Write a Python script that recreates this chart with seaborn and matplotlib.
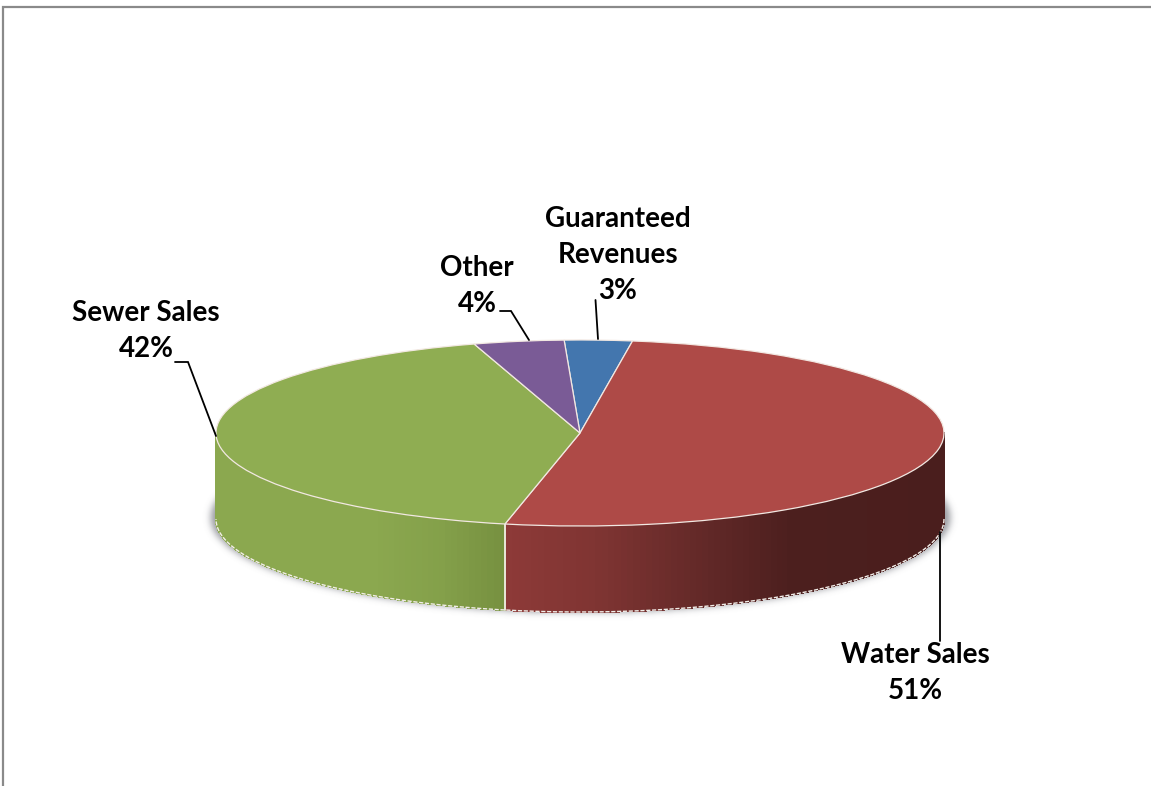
import numpy as np
import pandas as pd
import matplotlib
matplotlib.use("Agg")
import matplotlib.pyplot as plt
from matplotlib.colors import to_rgb
import seaborn as sns

# Revenue shares, in drawing order (clockwise from the top)
categories = ["Guaranteed\nRevenues", "Water Sales", "Sewer Sales", "Other"]
shares = [3, 51, 42, 4]
slice_colors = ["#4376AE", "#AE4A47", "#8FAD52", "#7A5B96"]

sns.set_theme(style="white")
plt.rcParams["font.family"] = ["Lato", "DejaVu Sans"]
palette = sns.color_palette(slice_colors)
table = pd.DataFrame({"category": categories, "share": shares})

W, H = 1151, 786
CX, CY, RX, RY, DEPTH = 580, 433, 364, 93, 86
ROTATION = -2.5  # degrees clockwise applied to the first slice edge

fig = plt.figure(figsize=(W / 100, H / 100), dpi=100, facecolor="white")


def pixel_axes(zorder):
    a = fig.add_axes([0, 0, 1, 1], zorder=zorder)
    a.set_xlim(0, W)
    a.set_ylim(H, 0)
    a.axis("off")
    return a


# Soft drop shadow under the base of the pie
back = pixel_axes(0)
xx, yy = np.meshgrid(np.arange(W), np.arange(H))
mask = (((xx - CX) / (RX + 6)) ** 2 + ((yy - (CY + DEPTH - 2)) / (RY + 2)) ** 2 <= 1).astype(float)
kernel = np.exp(-0.5 * (np.arange(-12, 13) / 3.5) ** 2)
kernel /= kernel.sum()
mask = np.apply_along_axis(lambda r: np.convolve(r, kernel, mode="same"), 1, mask)
mask = np.apply_along_axis(lambda c: np.convolve(c, kernel, mode="same"), 0, mask)
shadow = np.zeros((H, W, 4))
shadow[..., :3] = to_rgb("#6E7078")
shadow[..., 3] = mask * 0.7
back.imshow(shadow, extent=(0, W, H, 0), aspect="auto", interpolation="bilinear")
back.set_xlim(0, W)
back.set_ylim(H, 0)

# Chart border: only the top and left edges fall inside the canvas
back.plot([3.5, 3.5, W], [H, 6.5, 6.5], color="#8A8A8A", lw=1.6, solid_joinstyle="miter")

# Pie axes: one x unit is RX pixels, one y unit is RY pixels
ax = fig.add_axes([0, 0, 1, 1], zorder=1)
ax.patch.set_alpha(0)

edges = ROTATION + np.concatenate([[0], np.cumsum(table["share"])]) * 3.6

wall_stops = {
    1: ([505, 600, 700, 790, 944],
        ["#8E3A38", "#7E3432", "#632928", "#4C1F1E", "#4A1E1D"]),
    2: ([216, 370, 440, 505],
        ["#8BA84F", "#8BA84F", "#84A04A", "#76903F"]),
}


def wall_color(index, x_px):
    xs, cols = wall_stops[index]
    rgb = np.array([to_rgb(c) for c in cols])
    return [np.interp(x_px, xs, rgb[:, k]) for k in range(3)]


# Side wall, built from narrow strips that follow the front rim
depth_u = DEPTH / RY
for i in range(len(shares)):
    lo, hi = max(edges[i], 90), min(edges[i + 1], 270)
    if hi <= lo:
        continue
    steps = np.linspace(lo, hi, max(2, int(hi - lo) + 1))
    for a0, a1 in zip(steps[:-1], steps[1:]):
        t = np.radians([a0, a1])
        xs = np.sin(t)
        ys = np.cos(t)
        col = wall_color(i, CX + RX * xs.mean())
        ax.fill([xs[0], xs[1], xs[1], xs[0]],
                [ys[0], ys[1], ys[1] - depth_u, ys[0] - depth_u],
                color=col, lw=0.8, antialiased=False, zorder=1)

# Light rim along the bottom of the wall and at the slice seam
rim = np.radians(np.linspace(90, 270, 361))
ax.plot(np.sin(rim), np.cos(rim) - depth_u, color="#F2EDE8", lw=1.0,
        dashes=(3, 1.2), zorder=2)
seam = np.radians(edges[2])
ax.plot([np.sin(seam)] * 2, [np.cos(seam), np.cos(seam) - depth_u],
        color="#F4EEE6", lw=1.3, zorder=2)

# Top face
ax.pie(table["share"], colors=palette, startangle=90 - ROTATION, counterclock=False,
       radius=1, wedgeprops={"edgecolor": "#F2E8E2", "linewidth": 0.9, "zorder": 3})
ax.set_aspect("auto")
ax.set_xlim(-CX / RX, (W - CX) / RX)
ax.set_ylim((CY - H) / RY, CY / RY)

# Data labels and their leader lines, placed in canvas pixels
front = pixel_axes(2)
label_style = dict(ha="center", va="center", fontsize=20, fontweight="bold",
                   color="black", linespacing=1.47)
label_centers = [(618, 255), (915, 673), (146, 331), (477, 286)]
for name, share, (lx, ly) in zip(categories, shares, label_centers):
    front.text(lx, ly, f"{name}\n{share}%", **label_style)

leaders = [
    ([595.5, 598], [300, 339]),
    ([940, 940], [532, 641]),
    ([175, 188, 216], [362, 362, 436]),
    ([500, 511, 529], [311, 311, 340]),
]
for lx, ly in leaders:
    front.plot(lx, ly, color="black", lw=1.3, solid_joinstyle="miter")

fig.savefig("out.png", dpi=100, facecolor="white")
